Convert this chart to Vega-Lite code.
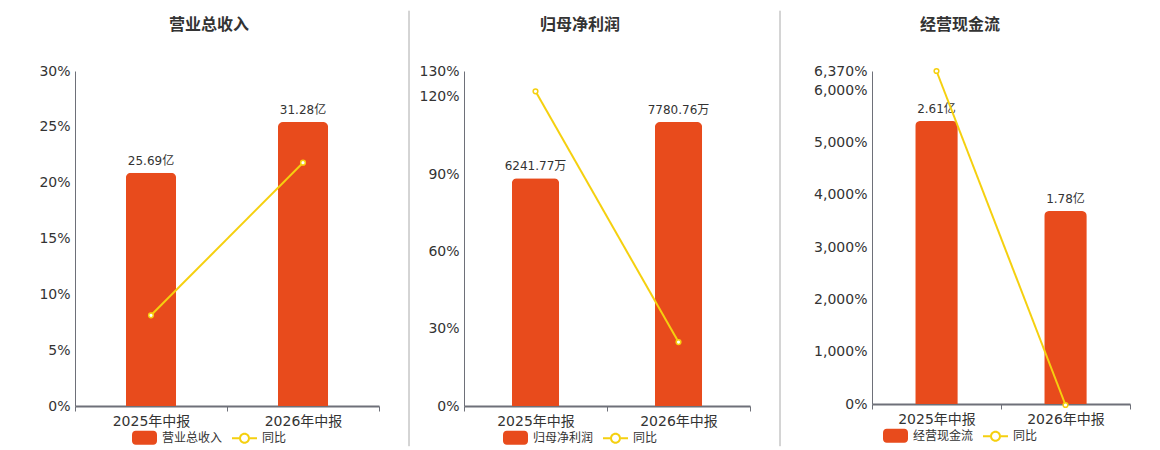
{
  "$schema": "https://vega.github.io/schema/vega-lite/v6.json",
  "padding": {"left": 38, "top": 10, "right": 0, "bottom": 0},
  "spacing": 28,
  "resolve": {"scale": {"color": "independent"}, "legend": {"color": "independent"}},
  "hconcat": [
    {
      "width": 304,
      "height": 335,
      "title": {"text": "营业总收入", "dx": -18},
      "data": {"values": [
        {"period": "2025年中报", "value": 25.69, "label": "25.69亿", "yoy": 8.12},
        {"period": "2026年中报", "value": 31.28, "label": "31.28亿", "yoy": 21.79}
      ]},
      "encoding": {
        "x": {"field": "period", "type": "nominal", "sort": null, "title": null,
          "scale": {"paddingInner": 0, "paddingOuter": 0}}
      },
      "layer": [
        {
          "layer": [
            {
              "mark": {"type": "bar", "width": {"band": 0.33}, "cornerRadiusTopLeft": 5, "cornerRadiusTopRight": 5},
              "encoding": {
                "y": {"field": "value", "type": "quantitative", "scale": {"domain": [0, 36.9], "nice": false}, "axis": null},
                "color": {"datum": "营业总收入",
                  "scale": {"domain": ["营业总收入", "同比"], "range": ["#e84b1c", "#f5d00f"]},
                  "legend": {"orient": "none", "legendX": 57, "legendY": 354,
                    "encode": {"symbols": {"update": {
                      "shape": [
                        {"test": "datum.label === '同比'", "value": "M-1,-0.08H-0.44V0.08H-1Z M0.44,-0.08H1V0.08H0.44Z M0.44,0A0.44,0.44 0 1 1 -0.44,0A0.44,0.44 0 1 1 0.44,0Z M0.28,0A0.28,0.28 0 1 0 -0.28,0A0.28,0.28 0 1 0 0.28,0Z"},
                        {"value": "M-0.7,-0.56H0.7A0.3,0.3 0 0 1 1,-0.26V0.26A0.3,0.3 0 0 1 0.7,0.56H-0.7A0.3,0.3 0 0 1 -1,0.26V-0.26A0.3,0.3 0 0 1 -0.7,-0.56Z"}
                      ],
                      "strokeWidth": {"value": 0},
                      "opacity": {"value": 1}
                    }}}}}
              }
            },
            {
              "mark": {"type": "text", "baseline": "bottom", "dy": -5, "fontSize": 12, "color": "#333"},
              "encoding": {
                "y": {"field": "value", "type": "quantitative"},
                "text": {"field": "label"}
              }
            }
          ]
        },
        {
          "layer": [
            {
              "mark": {"type": "line", "strokeWidth": 2},
              "encoding": {
                "y": {"field": "yoy", "type": "quantitative", "scale": {"domain": [0, 30], "nice": false},
                  "axis": {"orient": "left", "values": [0, 5, 10, 15, 20, 25, 30]}},
                "color": {"datum": "同比"}
              }
            },
            {
              "mark": {"type": "point", "filled": true, "fill": "#fff", "stroke": "#f5d00f", "strokeWidth": 1.5, "size": 22, "opacity": 1},
              "encoding": {"y": {"field": "yoy", "type": "quantitative"}}
            }
          ]
        }
      ],
      "resolve": {"scale": {"y": "independent"}}
    },
    {
      "spacing": 8,
      "resolve": {"scale": {"color": "independent"}, "legend": {"color": "independent"}},
      "hconcat": [
        {
          "width": 1,
          "height": 335,
          "data": {"values": [{"pos": 0, "top": 1.18, "bottom": -0.12}]},
          "mark": {"type": "rule", "color": "#aaaaaa", "strokeWidth": 1},
          "encoding": {
            "x": {"field": "pos", "type": "quantitative", "scale": {"domain": [0, 1]}, "axis": null},
            "y": {"field": "top", "type": "quantitative", "scale": {"domain": [0, 1], "nice": false, "zero": false}, "axis": null},
            "y2": {"field": "bottom"}
          }
        },
        {
          "width": 286,
          "height": 335,
          "title": {"text": "归母净利润", "dx": -27},
          "data": {"values": [
            {"period": "2025年中报", "value": 6241.77, "label": "6241.77万", "yoy": 122.1},
            {"period": "2026年中报", "value": 7780.76, "label": "7780.76万", "yoy": 24.8}
          ]},
          "encoding": {
            "x": {"field": "period", "type": "nominal", "sort": null, "title": null,
              "scale": {"paddingInner": 0, "paddingOuter": 0}}
          },
          "layer": [
            {
              "layer": [
                {
                  "mark": {"type": "bar", "width": {"band": 0.33}, "cornerRadiusTopLeft": 5, "cornerRadiusTopRight": 5},
                  "encoding": {
                    "y": {"field": "value", "type": "quantitative", "scale": {"domain": [0, 9178], "nice": false}, "axis": null},
                    "color": {"datum": "归母净利润",
                      "scale": {"domain": ["归母净利润", "同比"], "range": ["#e84b1c", "#f5d00f"]},
                      "legend": {"orient": "none", "legendX": 39, "legendY": 354,
                        "encode": {"symbols": {"update": {
                          "shape": [
                            {"test": "datum.label === '同比'", "value": "M-1,-0.08H-0.44V0.08H-1Z M0.44,-0.08H1V0.08H0.44Z M0.44,0A0.44,0.44 0 1 1 -0.44,0A0.44,0.44 0 1 1 0.44,0Z M0.28,0A0.28,0.28 0 1 0 -0.28,0A0.28,0.28 0 1 0 0.28,0Z"},
                            {"value": "M-0.7,-0.56H0.7A0.3,0.3 0 0 1 1,-0.26V0.26A0.3,0.3 0 0 1 0.7,0.56H-0.7A0.3,0.3 0 0 1 -1,0.26V-0.26A0.3,0.3 0 0 1 -0.7,-0.56Z"}
                          ],
                          "strokeWidth": {"value": 0},
                          "opacity": {"value": 1}
                        }}}}}
                  }
                },
                {
                  "mark": {"type": "text", "baseline": "bottom", "dy": -5, "fontSize": 12, "color": "#333"},
                  "encoding": {
                    "y": {"field": "value", "type": "quantitative"},
                    "text": {"field": "label"}
                  }
                }
              ]
            },
            {
              "layer": [
                {
                  "mark": {"type": "line", "strokeWidth": 2},
                  "encoding": {
                    "y": {"field": "yoy", "type": "quantitative", "scale": {"domain": [0, 130], "nice": false},
                      "axis": {"orient": "left", "values": [0, 30, 60, 90, 120, 130]}},
                    "color": {"datum": "同比"}
                  }
                },
                {
                  "mark": {"type": "point", "filled": true, "fill": "#fff", "stroke": "#f5d00f", "strokeWidth": 1.5, "size": 22, "opacity": 1},
                  "encoding": {"y": {"field": "yoy", "type": "quantitative"}}
                }
              ]
            }
          ],
          "resolve": {"scale": {"y": "independent"}}
        }
      ]
    },
    {
      "spacing": 32,
      "resolve": {"scale": {"color": "independent"}, "legend": {"color": "independent"}},
      "hconcat": [
        {
          "width": 1,
          "height": 335,
          "data": {"values": [{"pos": 0, "top": 1.18, "bottom": -0.12}]},
          "mark": {"type": "rule", "color": "#aaaaaa", "strokeWidth": 1},
          "encoding": {
            "x": {"field": "pos", "type": "quantitative", "scale": {"domain": [0, 1]}, "axis": null},
            "y": {"field": "top", "type": "quantitative", "scale": {"domain": [0, 1], "nice": false, "zero": false}, "axis": null},
            "y2": {"field": "bottom"}
          }
        },
        {
          "width": 258,
          "height": 333,
          "title": {"text": "经营现金流", "dx": -41},
          "data": {"values": [
            {"period": "2025年中报", "value": 2.61, "label": "2.61亿", "yoy": 6370},
            {"period": "2026年中报", "value": 1.78, "label": "1.78亿", "yoy": -19}
          ]},
          "encoding": {
            "x": {"field": "period", "type": "nominal", "sort": null, "title": null,
              "scale": {"paddingInner": 0, "paddingOuter": 0}}
          },
          "layer": [
            {
              "layer": [
                {
                  "mark": {"type": "bar", "width": {"band": 0.33}, "cornerRadiusTopLeft": 5, "cornerRadiusTopRight": 5},
                  "encoding": {
                    "y": {"field": "value", "type": "quantitative", "scale": {"domain": [0, 3.071], "nice": false}, "axis": null},
                    "color": {"datum": "经营现金流",
                      "scale": {"domain": ["经营现金流", "同比"], "range": ["#e84b1c", "#f5d00f"]},
                      "legend": {"orient": "none", "legendX": 11, "legendY": 352,
                        "encode": {"symbols": {"update": {
                          "shape": [
                            {"test": "datum.label === '同比'", "value": "M-1,-0.08H-0.44V0.08H-1Z M0.44,-0.08H1V0.08H0.44Z M0.44,0A0.44,0.44 0 1 1 -0.44,0A0.44,0.44 0 1 1 0.44,0Z M0.28,0A0.28,0.28 0 1 0 -0.28,0A0.28,0.28 0 1 0 0.28,0Z"},
                            {"value": "M-0.7,-0.56H0.7A0.3,0.3 0 0 1 1,-0.26V0.26A0.3,0.3 0 0 1 0.7,0.56H-0.7A0.3,0.3 0 0 1 -1,0.26V-0.26A0.3,0.3 0 0 1 -0.7,-0.56Z"}
                          ],
                          "strokeWidth": {"value": 0},
                          "opacity": {"value": 1}
                        }}}}}
                  }
                },
                {
                  "mark": {"type": "text", "baseline": "bottom", "dy": -5, "fontSize": 12, "color": "#333"},
                  "encoding": {
                    "y": {"field": "value", "type": "quantitative"},
                    "text": {"field": "label"}
                  }
                }
              ]
            },
            {
              "layer": [
                {
                  "mark": {"type": "line", "strokeWidth": 2},
                  "encoding": {
                    "y": {"field": "yoy", "type": "quantitative", "scale": {"domain": [0, 6370], "nice": false, "zero": false},
                      "axis": {"orient": "left", "values": [0, 1000, 2000, 3000, 4000, 5000, 6000, 6370]}},
                    "color": {"datum": "同比"}
                  }
                },
                {
                  "mark": {"type": "point", "filled": true, "fill": "#fff", "stroke": "#f5d00f", "strokeWidth": 1.5, "size": 22, "opacity": 1},
                  "encoding": {"y": {"field": "yoy", "type": "quantitative"}}
                }
              ]
            }
          ],
          "resolve": {"scale": {"y": "independent"}}
        }
      ]
    }
  ],
  "config": {
    "font": "DejaVu Sans, Noto Sans CJK SC",
    "view": {"stroke": null},
    "title": {"fontSize": 16, "fontWeight": "bold", "color": "#333333", "anchor": "middle", "offset": 31},
    "axisX": {
      "labelFontSize": 14, "labelColor": "#333333", "labelAngle": 0, "labelPadding": 3,
      "domainColor": "#6e7079", "domainWidth": 2, "tickColor": "#6e7079", "tickSize": 5, "tickWidth": 1,
      "tickBand": "extent", "grid": false
    },
    "axisY": {
      "labelFontSize": 14, "labelColor": "#333333", "labelPadding": 5, "ticks": false,
      "labelExpr": "format(datum.value, ',') + '%'",
      "domainColor": "#6e7079", "domainWidth": 1, "grid": true, "gridColor": "#e0e6f1", "title": null
    },
    "legend": {
      "direction": "horizontal", "title": null, "symbolSize": 625, "labelFontSize": 12, "labelColor": "#333333",
      "labelOffset": 5, "columnPadding": 9
    }
  }
}
